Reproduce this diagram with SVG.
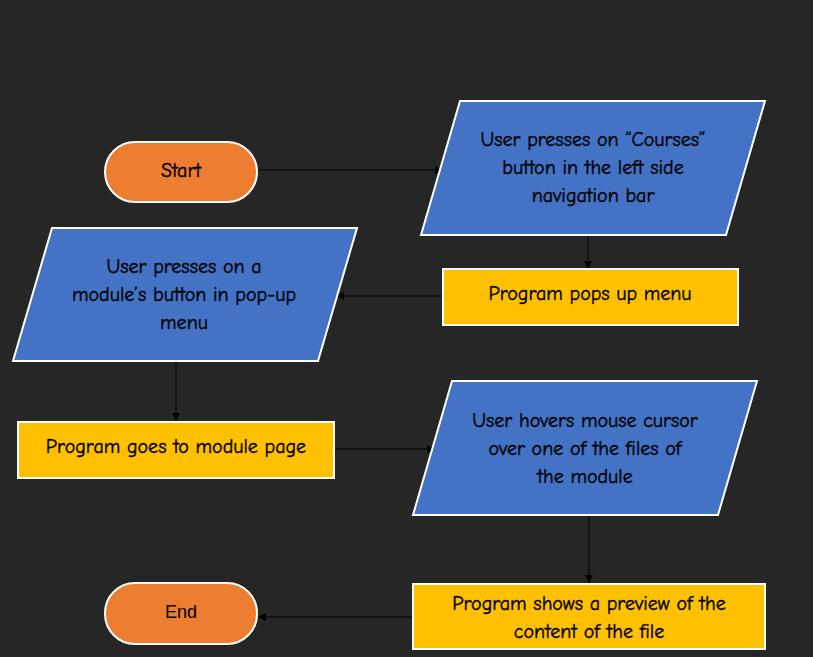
<svg xmlns="http://www.w3.org/2000/svg" width="813" height="657" viewBox="0 0 813 657">
<defs>
<style>
.term{fill:#ED7D31;stroke:#ffffff;stroke-width:2}
.io{fill:#4472C4;stroke:#ffffff;stroke-width:2}
.proc{fill:#FFC000;stroke:#ffffff;stroke-width:2}
.t{font-family:"Comic Sans MS","Comic Neue","Liberation Sans",sans-serif;font-size:20px;fill:#000000;stroke:#000000;stroke-width:0.4;text-anchor:middle;dominant-baseline:central}
.t2{font-family:"Liberation Sans",Arial,sans-serif;font-size:18px;fill:#000000;text-anchor:middle;dominant-baseline:central}
.c{stroke:#000000;stroke-width:1;fill:none;marker-end:url(#ah)}
</style>
<marker id="ah" viewBox="0 0 10 10" refX="10" refY="5" markerWidth="8" markerHeight="8" markerUnits="userSpaceOnUse" orient="auto">
<path d="M0,0 L10,5 L0,10 z" fill="#000000"/>
</marker>
</defs>
<rect x="0" y="0" width="813" height="657" fill="#262626"/>
<g id="connectors">
<line class="c" x1="257" y1="170" x2="443" y2="170"/>
<line class="c" x1="588" y1="236" x2="588" y2="269"/>
<line class="c" x1="443" y1="296" x2="336" y2="296"/>
<line class="c" x1="176" y1="362" x2="176" y2="421"/>
<line class="c" x1="335" y1="449" x2="435" y2="449"/>
<line class="c" x1="589" y1="516" x2="589" y2="583"/>
<line class="c" x1="413" y1="617" x2="258" y2="617"/>
</g>
<g id="start">
<rect class="term" x="105" y="142" width="152" height="60" rx="30" ry="30"/>
<text class="t" x="181" y="170">Start</text>
</g>
<g id="user-courses">
<polygon class="io" points="460,101 765,101 726,235 421,235"/>
<text class="t" x="593" y="139">User presses on “Courses”</text>
<text class="t" x="593" y="167">button in the left side</text>
<text class="t" x="593" y="195">navigation bar</text>
</g>
<g id="popup-menu">
<rect class="proc" x="443" y="269" width="295" height="56"/>
<text class="t" x="590" y="293">Program pops up menu</text>
</g>
<g id="user-module">
<polygon class="io" points="52,228 357,228 318,361 13,361"/>
<text class="t" x="184" y="266">User presses on a</text>
<text class="t" x="184" y="294">module’s button in pop-up</text>
<text class="t" x="184" y="322">menu</text>
</g>
<g id="module-page">
<rect class="proc" x="18" y="422" width="316" height="56"/>
<text class="t" x="176" y="446">Program goes to module page</text>
</g>
<g id="user-hover">
<polygon class="io" points="452,381 757,381 718,515 413,515"/>
<text class="t" x="585" y="420">User hovers mouse cursor</text>
<text class="t" x="585" y="448">over one of the files of</text>
<text class="t" x="585" y="476">the module</text>
</g>
<g id="preview">
<rect class="proc" x="413" y="584" width="352" height="65"/>
<text class="t" x="589" y="603">Program shows a preview of the</text>
<text class="t" x="589" y="631">content of the file</text>
</g>
<g id="end">
<rect class="term" x="105" y="583" width="152" height="61" rx="30" ry="30"/>
<text class="t2" x="181" y="612">End</text>
</g>
</svg>
